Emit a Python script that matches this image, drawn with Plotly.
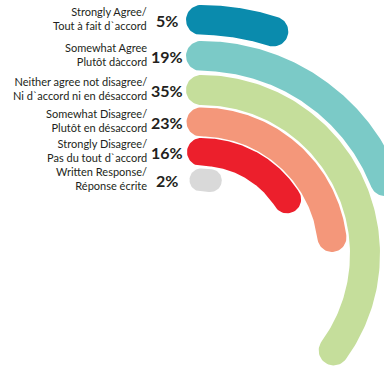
import numpy as np
import plotly.graph_objects as go

# Survey responses (percent of respondents)
labels_en = ["Strongly Agree/", "Somewhat Agree", "Neither agree not disagree/",
             "Somewhat Disagree/", "Strongly Disagree/", "Written Response/"]
labels_fr = ["Tout à fait d`accord", "Plutôt dàccord", "Ni d`accord ni en désaccord",
             "Plutôt en désaccord", "Pas du tout d`accord", "Réponse écrite"]
values = [5, 19, 35, 23, 16, 2]

# Styling
colors = ["#0A8BAD", "#7BCAC7", "#C5DE9B", "#F4977A", "#EC1F2C", "#D9D9D9"]
thickness = [30, 30, 30, 29, 28, 23]
text_color = "#231F20"

# Ring layout: outermost ring radius, spacing shrinks by 2 px per ring
R_OUTER = 234
PITCH0 = 36
radii = [R_OUTER]
for i in range(1, len(values)):
    radii.append(radii[-1] - (PITCH0 - 2 * (i - 1)))


def rounded_arc(r, t, frac, n=120, ncap=30):
    """Closed outline of an arc band (radius r, width t) sweeping clockwise
    from 12 o'clock over `frac` of the full circle, with round ends."""
    th1 = 2 * np.pi * frac
    h = t / 2
    th = np.linspace(0, th1, n)
    outer = np.c_[(r + h) * np.sin(th), (r + h) * np.cos(th)]
    inner = np.c_[(r - h) * np.sin(th[::-1]), (r - h) * np.cos(th[::-1])]
    phi = np.linspace(0, np.pi, ncap)
    # end cap
    u1 = np.array([np.sin(th1), np.cos(th1)])
    v1 = np.array([np.cos(th1), -np.sin(th1)])
    c1 = r * u1
    cap1 = c1 + h * (np.outer(np.cos(phi), u1) + np.outer(np.sin(phi), v1))
    # start cap
    u0 = np.array([0.0, 1.0])
    v0 = np.array([1.0, 0.0])
    c0 = r * u0
    cap0 = c0 + h * (np.outer(-np.cos(phi), u0) + np.outer(-np.sin(phi), v0))
    pts = np.vstack([outer, cap1, inner, cap0, outer[:1]])
    return pts[:, 0], pts[:, 1]


fig = go.Figure()
for name, val, r, t, col in zip(labels_en, values, radii, thickness, colors):
    x, y = rounded_arc(r, t, val / 100)
    fig.add_trace(go.Scatter(
        x=x, y=y, mode="lines", fill="toself", fillcolor=col,
        line=dict(width=0, color=col), name=name, hoverinfo="skip",
    ))

annotations = []
for en, fr, val, r in zip(labels_en, labels_fr, values, radii):
    annotations.append(dict(
        x=-52, y=r + 1.5, xref="x", yref="y", text=f"{en}<br>{fr}",
        xanchor="right", yanchor="middle", align="right", showarrow=False,
        font=dict(family="Lato", size=11, color=text_color),
    ))
    annotations.append(dict(
        x=-34, y=r, xref="x", yref="y", text=f"<b>{val}%</b>",
        xanchor="center", yanchor="middle", showarrow=False,
        font=dict(family="Lato", size=16, color=text_color),
    ))

fig.update_layout(
    width=384, height=373,
    margin=dict(l=0, r=0, t=0, b=0),
    paper_bgcolor="white", plot_bgcolor="white",
    showlegend=False,
    xaxis=dict(range=[-201, 183], visible=False, fixedrange=True),
    yaxis=dict(range=[-119, 254], visible=False, fixedrange=True),
    annotations=annotations,
)

fig.write_html("out.html")
